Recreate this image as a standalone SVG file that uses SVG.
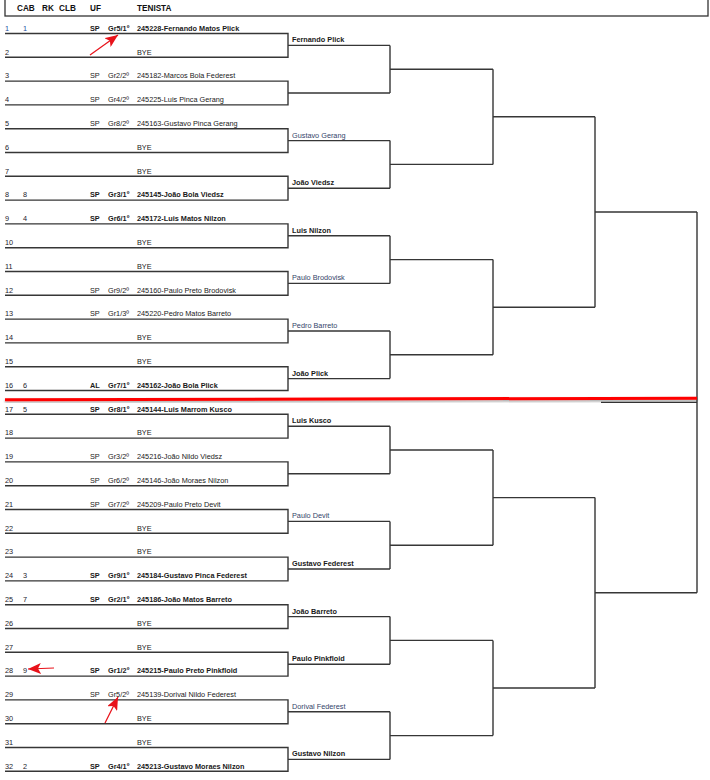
<svg xmlns="http://www.w3.org/2000/svg" width="710" height="780" viewBox="0 0 710 780">
<style>
text{font-family:"Liberation Sans",Arial,sans-serif;font-size:7.3px;fill:#1a1a1a}
.b{font-weight:bold}
.n{fill:#1c1c2c}
.blue{fill:#1f4f9f}
.h{font-size:8.2px;font-weight:bold;fill:#111}
.r{fill:#34456a}
.ln{fill:none;stroke:#363636;stroke-width:1.4}
.arr{fill:none;stroke:#e8121a;stroke-width:1.2}
</style>
<defs>
<marker id="ah" markerUnits="userSpaceOnUse" markerWidth="14" markerHeight="11" refX="13" refY="5.5" orient="auto">
<path d="M0,0 L13,5.5 L0,11 L3,5.5 Z" fill="#e8121a"/>
</marker>
<filter id="sh" x="-5%" y="-200%" width="110%" height="500%">
<feDropShadow dx="0" dy="1.5" stdDeviation="1" flood-color="#000" flood-opacity="0.35"/>
</filter>
</defs>
<rect width="710" height="780" fill="#fff"/>
<g id="header">
<rect x="5" y="-1" width="703" height="17" fill="none" stroke="#333" stroke-width="1.3"/>
<text class="h" x="17" y="11.3">CAB</text>
<text class="h" x="42" y="11.3">RK</text>
<text class="h" x="59" y="11.3">CLB</text>
<text class="h" x="90" y="11.3">UF</text>
<text class="h" x="137" y="11.3">TENISTA</text>
</g>
<g id="connectors" class="ln">
<path d="M5 33.5H288V57.3H5M288 45.4H390"/>
<path d="M5 81.1H288V104.9H5M288 93H390"/>
<path d="M5 128.7H288V152.5H5M288 140.6H390"/>
<path d="M5 176.3H288V200.1H5M288 188.2H390"/>
<path d="M5 223.9H288V247.7H5M288 235.8H390"/>
<path d="M5 271.5H288V295.3H5M288 283.4H390"/>
<path d="M5 319.1H288V342.9H5M288 331H390"/>
<path d="M5 366.7H288V390.5H5M288 378.6H390"/>
<path d="M5 414.3H288V438.1H5M288 426.2H390"/>
<path d="M5 461.9H288V485.7H5M288 473.8H390"/>
<path d="M5 509.5H288V533.3H5M288 521.4H390"/>
<path d="M5 557.1H288V580.9H5M288 569H390"/>
<path d="M5 604.7H288V628.5H5M288 616.6H390"/>
<path d="M5 652.3H288V676.1H5M288 664.2H390"/>
<path d="M5 699.9H288V723.7H5M288 711.8H390"/>
<path d="M5 747.5H288V771.3H5M288 759.4H390"/>
<path d="M390 45.4V93M390 69.2H493"/>
<path d="M390 140.6V188.2M390 164.4H493"/>
<path d="M390 235.8V283.4M390 259.6H493"/>
<path d="M390 331V378.6M390 354.8H493"/>
<path d="M390 426.2V473.8M390 450H493"/>
<path d="M390 521.4V569M390 545.2H493"/>
<path d="M390 616.6V664.2M390 640.4H493"/>
<path d="M390 711.8V759.4M390 735.6H493"/>
<path d="M493 69.2V164.4M493 116.8H595"/>
<path d="M493 259.6V354.8M493 307.2H595"/>
<path d="M493 450V545.2M493 497.6H595"/>
<path d="M493 640.4V735.6M493 688H595"/>
<path d="M595 116.8V307.2M595 212H697"/>
<path d="M595 497.6V688M595 592.8H697"/>
<path d="M697 212V592.8M601 402.4H697"/>
</g>
<g id="slot1"><text class="blue" x="5" y="30.8">1</text><text class="blue" x="23" y="30.8">1</text><text class="b" x="90" y="30.8">SP</text><text class="b" x="108" y="30.8">Gr5/1º</text><text class="b" x="137" y="30.8">245228-Fernando Matos Plick</text></g>
<g id="slot2"><text class="n" x="5" y="54.6">2</text><text x="137" y="54.6">BYE</text></g>
<g id="slot3"><text class="n" x="5" y="78.4">3</text><text x="90" y="78.4">SP</text><text x="108" y="78.4">Gr2/2º</text><text x="137" y="78.4">245182-Marcos Bola Federest</text></g>
<g id="slot4"><text class="n" x="5" y="102.2">4</text><text x="90" y="102.2">SP</text><text x="108" y="102.2">Gr4/2º</text><text x="137" y="102.2">245225-Luis Pinca Gerang</text></g>
<g id="slot5"><text class="n" x="5" y="126">5</text><text x="90" y="126">SP</text><text x="108" y="126">Gr8/2º</text><text x="137" y="126">245163-Gustavo Pinca Gerang</text></g>
<g id="slot6"><text class="n" x="5" y="149.8">6</text><text x="137" y="149.8">BYE</text></g>
<g id="slot7"><text class="n" x="5" y="173.6">7</text><text x="137" y="173.6">BYE</text></g>
<g id="slot8"><text class="n" x="5" y="197.4">8</text><text class="n" x="23" y="197.4">8</text><text class="b" x="90" y="197.4">SP</text><text class="b" x="108" y="197.4">Gr3/1º</text><text class="b" x="137" y="197.4">245145-João Bola Viedsz</text></g>
<g id="slot9"><text class="n" x="5" y="221.2">9</text><text class="n" x="23" y="221.2">4</text><text class="b" x="90" y="221.2">SP</text><text class="b" x="108" y="221.2">Gr6/1º</text><text class="b" x="137" y="221.2">245172-Luis Matos Nilzon</text></g>
<g id="slot10"><text class="n" x="5" y="245">10</text><text x="137" y="245">BYE</text></g>
<g id="slot11"><text class="n" x="5" y="268.8">11</text><text x="137" y="268.8">BYE</text></g>
<g id="slot12"><text class="n" x="5" y="292.6">12</text><text x="90" y="292.6">SP</text><text x="108" y="292.6">Gr9/2º</text><text x="137" y="292.6">245160-Paulo Preto Brodovisk</text></g>
<g id="slot13"><text class="n" x="5" y="316.4">13</text><text x="90" y="316.4">SP</text><text x="108" y="316.4">Gr1/3º</text><text x="137" y="316.4">245220-Pedro Matos Barreto</text></g>
<g id="slot14"><text class="n" x="5" y="340.2">14</text><text x="137" y="340.2">BYE</text></g>
<g id="slot15"><text class="n" x="5" y="364">15</text><text x="137" y="364">BYE</text></g>
<g id="slot16"><text class="n" x="5" y="387.8">16</text><text class="n" x="23" y="387.8">6</text><text class="b" x="90" y="387.8">AL</text><text class="b" x="108" y="387.8">Gr7/1º</text><text class="b" x="137" y="387.8">245162-João Bola Plick</text></g>
<g id="slot17"><text class="n" x="5" y="411.6">17</text><text class="n" x="23" y="411.6">5</text><text class="b" x="90" y="411.6">SP</text><text class="b" x="108" y="411.6">Gr8/1º</text><text class="b" x="137" y="411.6">245144-Luis Marrom Kusco</text></g>
<g id="slot18"><text class="n" x="5" y="435.4">18</text><text x="137" y="435.4">BYE</text></g>
<g id="slot19"><text class="n" x="5" y="459.2">19</text><text x="90" y="459.2">SP</text><text x="108" y="459.2">Gr3/2º</text><text x="137" y="459.2">245216-João Nildo Viedsz</text></g>
<g id="slot20"><text class="n" x="5" y="483">20</text><text x="90" y="483">SP</text><text x="108" y="483">Gr6/2º</text><text x="137" y="483">245146-João Moraes Nilzon</text></g>
<g id="slot21"><text class="n" x="5" y="506.8">21</text><text x="90" y="506.8">SP</text><text x="108" y="506.8">Gr7/2º</text><text x="137" y="506.8">245209-Paulo Preto Devit</text></g>
<g id="slot22"><text class="n" x="5" y="530.6">22</text><text x="137" y="530.6">BYE</text></g>
<g id="slot23"><text class="n" x="5" y="554.4">23</text><text x="137" y="554.4">BYE</text></g>
<g id="slot24"><text class="n" x="5" y="578.2">24</text><text class="n" x="23" y="578.2">3</text><text class="b" x="90" y="578.2">SP</text><text class="b" x="108" y="578.2">Gr9/1º</text><text class="b" x="137" y="578.2">245184-Gustavo Pinca Federest</text></g>
<g id="slot25"><text class="n" x="5" y="602">25</text><text class="n" x="23" y="602">7</text><text class="b" x="90" y="602">SP</text><text class="b" x="108" y="602">Gr2/1º</text><text class="b" x="137" y="602">245186-João Matos Barreto</text></g>
<g id="slot26"><text class="n" x="5" y="625.8">26</text><text x="137" y="625.8">BYE</text></g>
<g id="slot27"><text class="n" x="5" y="649.6">27</text><text x="137" y="649.6">BYE</text></g>
<g id="slot28"><text class="n" x="5" y="673.4">28</text><text class="n" x="23" y="673.4">9</text><text class="b" x="90" y="673.4">SP</text><text class="b" x="108" y="673.4">Gr1/2º</text><text class="b" x="137" y="673.4">245215-Paulo Preto Pinkfloid</text></g>
<g id="slot29"><text class="n" x="5" y="697.2">29</text><text x="90" y="697.2">SP</text><text x="108" y="697.2">Gr5/2º</text><text x="137" y="697.2">245139-Dorival Nildo Federest</text></g>
<g id="slot30"><text class="n" x="5" y="721">30</text><text x="137" y="721">BYE</text></g>
<g id="slot31"><text class="n" x="5" y="744.8">31</text><text x="137" y="744.8">BYE</text></g>
<g id="slot32"><text class="n" x="5" y="768.6">32</text><text class="n" x="23" y="768.6">2</text><text class="b" x="90" y="768.6">SP</text><text class="b" x="108" y="768.6">Gr4/1º</text><text class="b" x="137" y="768.6">245213-Gustavo Moraes Nilzon</text></g>
<g id="winners">
<g id="w1"><text class="b" x="292" y="42.4">Fernando Plick</text></g>
<g id="w3"><text class="r" x="292" y="137.6">Gustavo Gerang</text></g>
<g id="w4"><text class="b" x="292" y="185.2">João Viedsz</text></g>
<g id="w5"><text class="b" x="292" y="232.8">Luis Nilzon</text></g>
<g id="w6"><text class="r" x="292" y="280.4">Paulo Brodovisk</text></g>
<g id="w7"><text class="r" x="292" y="328">Pedro Barreto</text></g>
<g id="w8"><text class="b" x="292" y="375.6">João Plick</text></g>
<g id="w9"><text class="b" x="292" y="423.2">Luis Kusco</text></g>
<g id="w11"><text class="r" x="292" y="518.4">Paulo Devit</text></g>
<g id="w12"><text class="b" x="292" y="566">Gustavo Federest</text></g>
<g id="w13"><text class="b" x="292" y="613.6">João Barreto</text></g>
<g id="w14"><text class="b" x="292" y="661.2">Paulo Pinkfloid</text></g>
<g id="w15"><text class="r" x="292" y="708.8">Dorival Federest</text></g>
<g id="w16"><text class="b" x="292" y="756.4">Gustavo Nilzon</text></g>
</g>
<g id="annotations">
<line x1="5" y1="399.8" x2="697" y2="398.2" stroke="#f00" stroke-width="3" filter="url(#sh)"/>
<line class="arr" x1="90" y1="55" x2="118" y2="35" marker-end="url(#ah)"/>
<line class="arr" x1="54" y1="668" x2="28" y2="669" marker-end="url(#ah)"/>
<line class="arr" x1="105" y1="723" x2="118" y2="697" marker-end="url(#ah)"/>
</g>
</svg>
